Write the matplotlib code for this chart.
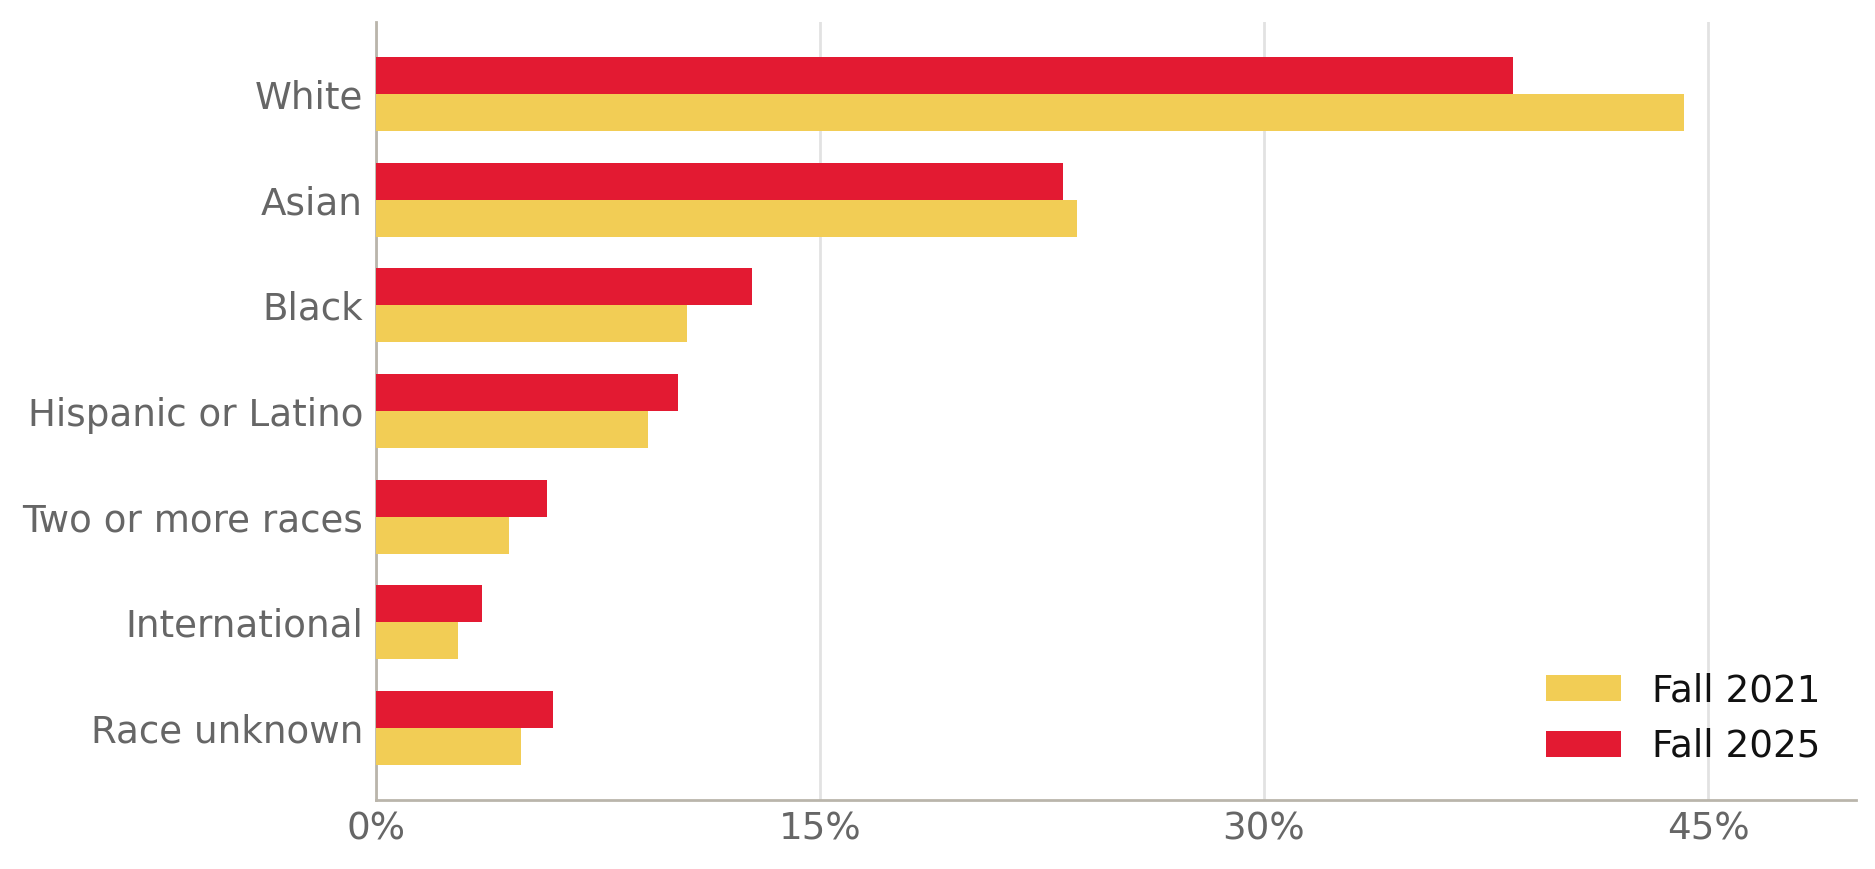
import matplotlib.pyplot as plt
import numpy as np

categories = ['White', 'Asian', 'Black', 'Hispanic or Latino',
              'Two or more races', 'International', 'Race unknown']
fall_2021 = [44.2, 23.7, 10.5, 9.2, 4.5, 2.8, 4.9]
fall_2025 = [38.4, 23.2, 12.7, 10.2, 5.8, 3.6, 6.0]
xticks = [0, 15, 30, 45]

plt.rcParams['font.family'] = ['DejaVu Sans']

fig = plt.figure(figsize=(9.375, 4.345), dpi=200)
ax = fig.add_axes([0.2003, 0.079, 0.7897, 0.896])

y = np.arange(len(categories))[::-1]
h = 0.35
ax.barh(y - h / 2, fall_2021, height=h, color='#F2CD55', label='Fall 2021', zorder=3)
ax.barh(y + h / 2, fall_2025, height=h, color='#E31A32', label='Fall 2025', zorder=3)

ax.set_yticks(y)
ax.set_yticklabels(categories)
ax.set_xticks(xticks)
ax.set_xticklabels([f'{t}%' for t in xticks])
ax.set_xlim(0, 50)
ax.set_ylim(-0.685, 6.685)

ax.tick_params(axis='both', length=0, labelsize=13.4, labelcolor='#666666')
ax.tick_params(axis='y', pad=4.5)
ax.tick_params(axis='x', pad=3.5)
ax.grid(axis='x', color='#E2E2E2', linewidth=1.0, zorder=0)
ax.grid(axis='y', visible=False)

for s in ['top', 'right']:
    ax.spines[s].set_visible(False)
for s in ['left', 'bottom']:
    ax.spines[s].set_color('#BAB5AB')
    ax.spines[s].set_linewidth(1.0)

leg = ax.legend(loc='lower right', frameon=False, fontsize=13.4,
                handlelength=2.0, handleheight=0.7, borderaxespad=0.55,
                labelspacing=0.5, handletextpad=0.85)
for t in leg.get_texts():
    t.set_color('#111111')

fig.savefig('out.png', dpi=200)
